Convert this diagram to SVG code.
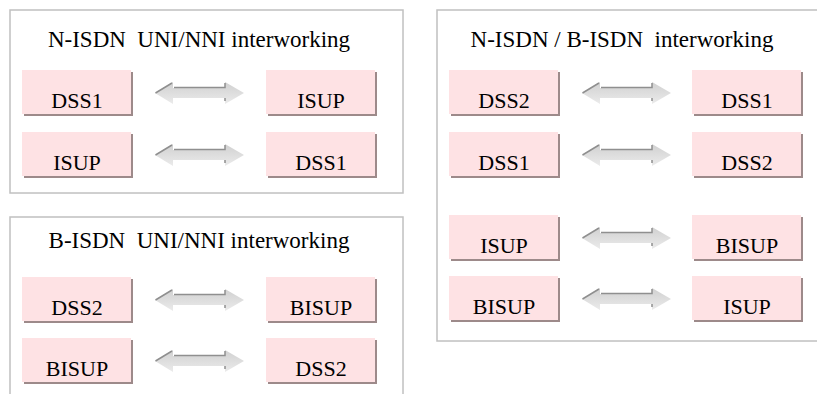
<svg xmlns="http://www.w3.org/2000/svg" width="817" height="394" viewBox="0 0 817 394">
<defs>
<linearGradient id="ag" x1="0" y1="0" x2="0" y2="1">
<stop offset="0" stop-color="#d0d0d0"/>
<stop offset="1" stop-color="#ebebeb"/>
</linearGradient>
<g id="arr">
<path d="M0,0 L18,-11 L18,-5 L70,-5 L70,-11 L89,0 L70,11 L70,5 L18,5 L18,11 Z" fill="url(#ag)"/>
<path d="M0.5,0 L17,-10 M19,-5.5 L70,-5.5 L70,-10 M70,5 L70,8" fill="none" stroke="#8f8f8f" stroke-width="1.5"/>
</g>
</defs>
<style>
.frame{fill:#ffffff;stroke:#c0c0c0;stroke-width:1.5}
.sh{fill:#9d8a8a}
.nd{fill:#fee2e4}
text{font-family:"Liberation Serif","Times New Roman",Times,serif;fill:#000;text-anchor:middle;white-space:pre}
.tt{font-size:23px}
.t{font-size:22px}
</style>
<rect width="817" height="394" fill="#ffffff"/>
<g id="frames">
<rect class="frame" x="10" y="10" width="393" height="183"/>
<rect class="frame" x="10" y="217" width="393" height="200"/>
<rect class="frame" x="437" y="10" width="400" height="331"/>
</g>
<g id="titles" font-family="Liberation Serif, serif">
<text class="tt" x="199" y="47" xml:space="preserve">N-ISDN  UNI/NNI interworking</text>
<text class="tt" x="199" y="248" xml:space="preserve">B-ISDN  UNI/NNI interworking</text>
<text class="tt" x="622" y="47" xml:space="preserve">N-ISDN / B-ISDN  interworking</text>
</g>
<g id="connectors">
<use href="#arr" x="155" y="93"/>
<use href="#arr" x="155" y="155"/>
<use href="#arr" x="155" y="300"/>
<use href="#arr" x="155" y="361"/>
<use href="#arr" x="582" y="93"/>
<use href="#arr" x="582" y="155"/>
<use href="#arr" x="582" y="238"/>
<use href="#arr" x="582" y="299"/>
</g>
<g id="n1"><rect class="sh" x="24" y="72" width="109" height="44"/><rect class="nd" x="22" y="70" width="109" height="44"/><text class="t" x="77" y="108">DSS1</text></g>
<g id="n2"><rect class="sh" x="268" y="72" width="109" height="44"/><rect class="nd" x="266" y="70" width="109" height="44"/><text class="t" x="321" y="108">ISUP</text></g>
<g id="n3"><rect class="sh" x="24" y="134" width="109" height="44"/><rect class="nd" x="22" y="132" width="109" height="44"/><text class="t" x="77" y="170">ISUP</text></g>
<g id="n4"><rect class="sh" x="268" y="134" width="109" height="44"/><rect class="nd" x="266" y="132" width="109" height="44"/><text class="t" x="321" y="170">DSS1</text></g>
<g id="n5"><rect class="sh" x="24" y="279" width="109" height="44"/><rect class="nd" x="22" y="277" width="109" height="44"/><text class="t" x="77" y="315">DSS2</text></g>
<g id="n6"><rect class="sh" x="268" y="279" width="109" height="44"/><rect class="nd" x="266" y="277" width="109" height="44"/><text class="t" x="321" y="315">BISUP</text></g>
<g id="n7"><rect class="sh" x="24" y="340" width="109" height="44"/><rect class="nd" x="22" y="338" width="109" height="44"/><text class="t" x="77" y="376">BISUP</text></g>
<g id="n8"><rect class="sh" x="268" y="340" width="109" height="44"/><rect class="nd" x="266" y="338" width="109" height="44"/><text class="t" x="321" y="376">DSS2</text></g>
<g id="n9"><rect class="sh" x="451" y="72" width="109" height="44"/><rect class="nd" x="449" y="70" width="109" height="44"/><text class="t" x="504" y="108">DSS2</text></g>
<g id="n10"><rect class="sh" x="694" y="72" width="109" height="44"/><rect class="nd" x="692" y="70" width="109" height="44"/><text class="t" x="747" y="108">DSS1</text></g>
<g id="n11"><rect class="sh" x="451" y="134" width="109" height="44"/><rect class="nd" x="449" y="132" width="109" height="44"/><text class="t" x="504" y="170">DSS1</text></g>
<g id="n12"><rect class="sh" x="694" y="134" width="109" height="44"/><rect class="nd" x="692" y="132" width="109" height="44"/><text class="t" x="747" y="170">DSS2</text></g>
<g id="n13"><rect class="sh" x="451" y="217" width="109" height="44"/><rect class="nd" x="449" y="215" width="109" height="44"/><text class="t" x="504" y="253">ISUP</text></g>
<g id="n14"><rect class="sh" x="694" y="217" width="109" height="44"/><rect class="nd" x="692" y="215" width="109" height="44"/><text class="t" x="747" y="253">BISUP</text></g>
<g id="n15"><rect class="sh" x="451" y="278" width="109" height="44"/><rect class="nd" x="449" y="276" width="109" height="44"/><text class="t" x="504" y="314">BISUP</text></g>
<g id="n16"><rect class="sh" x="694" y="278" width="109" height="44"/><rect class="nd" x="692" y="276" width="109" height="44"/><text class="t" x="747" y="314">ISUP</text></g>
</svg>
